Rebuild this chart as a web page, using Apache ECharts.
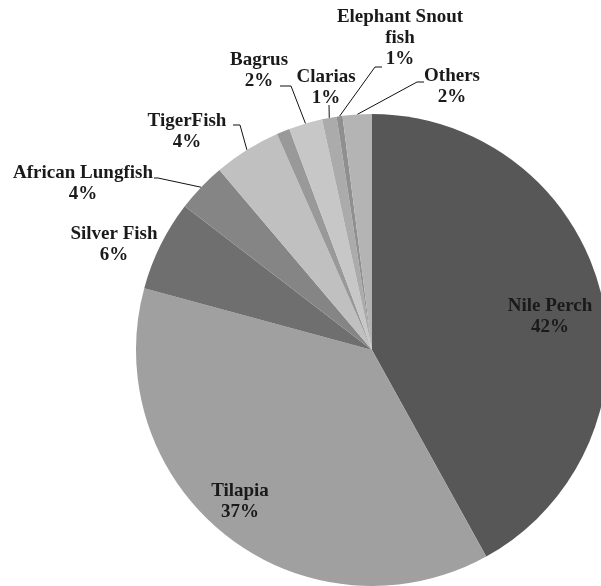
<!DOCTYPE html>
<html>
<head>
<meta charset="utf-8">
<script src="https://cdn.jsdelivr.net/npm/echarts@6/dist/echarts.min.js"></script>
<style>
html, body { margin: 0; padding: 0; background: #fff; }
#chart { width: 601px; height: 586px; }
</style>
</head>
<body>
<div id="chart"></div>
<script>
// fish catch shares, clockwise from 12 o'clock
const names = ['Nile Perch', 'Tilapia', 'Silver Fish', 'African Lungfish', 'TigerFish',
	'', 'Bagrus', 'Clarias', 'Elephant Snout fish', 'Others'];
const values = [42.0, 37.3, 6.2, 3.4, 4.6, 0.9, 2.3, 1.0, 0.4, 2.0];
const pctLabels = ['42%', '37%', '6%', '4%', '4%', '', '2%', '1%', '1%', '2%'];
const colors = ['#575757', '#a0a0a0', '#6f6f6f', '#858585', '#c0c0c0',
	'#999999', '#c7c7c7', '#ababab', '#8f8f8f', '#b4b4b4'];

// label placement (center of text block) and leader elbow, px
const labelPos = [
	[550, 317], [240, 502], [114, 245], [83, 184], [187, 132],
	null, [259, 71], [326, 88], [400, 38], [452, 87]
];
const elbows = [
	null, null, null, [158, 178], [240, 125],
	null, [291, 86], [329, 105], [375, 67], [417, 82]
];
const elbowEnds = [
	null, null, null, [154, 178], [233, 125],
	null, [280, 86], null, [382, 67], [424, 82]
];

const chartDom = document.getElementById('chart');
const chart = echarts.init(chartDom);

const seriesData = names.map((n, i) => ({
	name: n,
	value: values[i],
	itemStyle: { color: colors[i] },
	label: { show: n !== '' },
	labelLine: { show: elbows[i] !== null }
}));

function wrapName(n) {
	if (n.length > 16) {
		const k = n.lastIndexOf(' ');
		return n.slice(0, k) + '\n' + n.slice(k + 1);
	}
	return n;
}

const option = {
	animation: false,
	series: [{
		type: 'pie',
		center: [372, 350],
		radius: 236,
		startAngle: 90,
		clockwise: true,
		avoidLabelOverlap: false,
		itemStyle: { borderWidth: 0 },
		emphasis: { disabled: true },
		label: {
			position: 'outside',
			fontFamily: 'Liberation Serif',
			fontWeight: 'bold',
			fontSize: 19,
			lineHeight: 21,
			color: '#1a1a1a',
			align: 'center',
			formatter: (p) => wrapName(p.name) + '\n' + pctLabels[p.dataIndex]
		},
		labelLine: {
			show: true,
			length: 10,
			length2: 10,
			lineStyle: { color: '#111', width: 1 }
		},
		labelLayout: (params) => {
			const i = params.dataIndex;
			const pos = labelPos[i];
			if (!pos) return {};
			const out = { x: pos[0], y: pos[1], align: 'center', verticalAlign: 'middle' };
			if (elbows[i] && params.labelLinePoints) {
				const start = params.labelLinePoints[0];
				const pts = [start, elbows[i]];
				pts.push(elbowEnds[i] || elbows[i]);
				out.labelLinePoints = pts;
			}
			return out;
		},
		data: seriesData
	}]
};

chart.setOption(option);
</script>
</body>
</html>
